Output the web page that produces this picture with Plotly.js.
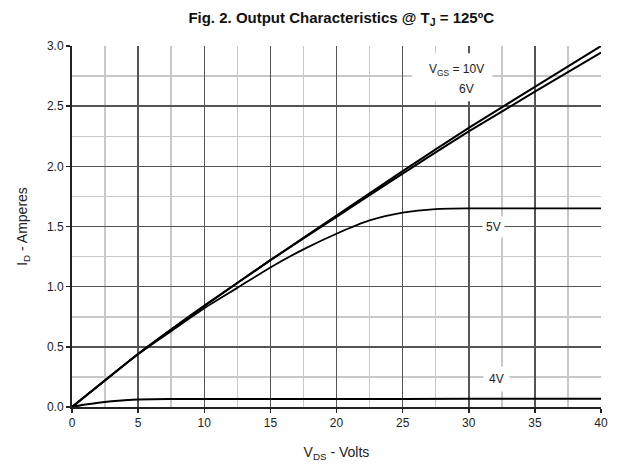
<!DOCTYPE html>
<html>
<head>
<meta charset="utf-8">
<script src="https://cdn.plot.ly/plotly-3.0.1.min.js"></script>
<style>html,body{margin:0;padding:0;background:#fff;}#chart{width:617px;height:467px;}</style>
</head>
<body>
<div id="chart"></div>
<script>
// V_DS (volts) sample points and I_D (amperes) per gate voltage
const vds10 = [0, 5, 10, 15, 20, 25, 30, 35, 40];
const id10  = [0, 0.44, 0.84, 1.22, 1.59, 1.96, 2.32, 2.66, 3.0];

const vds6 = [0, 5, 10, 15, 20, 25, 30, 35, 40];
const id6  = [0, 0.44, 0.84, 1.22, 1.58, 1.94, 2.29, 2.62, 2.945];

const vds5 = [0, 2.5, 5, 7.5, 10, 12.5, 15, 17.5, 20, 22.5, 25, 27.5, 30, 32.5, 35, 37.5, 40];
const id5  = [0, 0.22, 0.44, 0.63, 0.82, 0.99, 1.16, 1.31, 1.44, 1.55, 1.615, 1.645, 1.65, 1.65, 1.65, 1.65, 1.65];

const vds4 = [0, 1, 2, 3, 4, 5, 7.5, 10, 20, 30, 40];
const id4  = [0, 0.02, 0.036, 0.048, 0.057, 0.063, 0.066, 0.067, 0.067, 0.068, 0.068];

const xTicks = [0, 5, 10, 15, 20, 25, 30, 35, 40];
const yTicks = [0.0, 0.5, 1.0, 1.5, 2.0, 2.5, 3.0];

const traces = [
  {x: vds10, y: id10, name: 'VGS = 10V', mode: 'lines', line: {color: '#000', width: 2, shape: 'spline', smoothing: 0.5}},
  {x: vds6,  y: id6,  name: '6V', mode: 'lines', line: {color: '#000', width: 2, shape: 'spline', smoothing: 0.5}},
  {x: vds5,  y: id5,  name: '5V', mode: 'lines', line: {color: '#000', width: 1.8, shape: 'spline', smoothing: 0.6}},
  {x: vds4,  y: id4,  name: '4V', mode: 'lines', line: {color: '#000', width: 2, shape: 'spline', smoothing: 0.6}}
];

const fam = 'Liberation Sans, Arial, sans-serif';
const tickFont = {family: fam, size: 12, color: '#222'};

const layout = {
  width: 617, height: 467,
  margin: {l: 72, r: 16, t: 46, b: 60},
  paper_bgcolor: '#fff', plot_bgcolor: '#fff',
  showlegend: false,
  title: {
    text: '<b>Fig. 2. Output Characteristics @ T<sub>J</sub> = 125ºC</b>',
    font: {family: fam, size: 15, color: '#111'},
    x: 0.553, xanchor: 'center', y: 0.962, yanchor: 'middle'
  },
  xaxis: {
    range: [0, 40], tickvals: xTicks, ticktext: xTicks.map(String),
    showgrid: true, gridcolor: '#555', gridwidth: 1.5,
    minor: {dtick: 2.5, tick0: 0, showgrid: true, gridcolor: '#c8c8c8', gridwidth: 1.5, ticks: ''},
    showline: true, linecolor: '#222', linewidth: 2, mirror: false,
    ticks: 'outside', ticklen: 4, tickwidth: 1.5, tickcolor: '#222',
    tickfont: tickFont, zeroline: false,
    title: {text: 'V<sub>DS</sub> - Volts', font: {family: fam, size: 14, color: '#222'}, standoff: 18}
  },
  yaxis: {
    range: [0, 3.0], tickvals: yTicks, ticktext: yTicks.map(v => v.toFixed(1)),
    showgrid: true, gridcolor: '#555', gridwidth: 1.5,
    minor: {dtick: 0.25, tick0: 0, showgrid: true, gridcolor: '#c8c8c8', gridwidth: 1.5, ticks: ''},
    showline: true, linecolor: '#222', linewidth: 2, mirror: false,
    ticks: 'outside', ticklen: 4, tickwidth: 1.5, tickcolor: '#222',
    tickfont: tickFont, zeroline: false,
    title: {text: 'I<sub>D</sub> - Amperes', font: {family: fam, size: 14, color: '#222'}, standoff: 16}
  },
  shapes: [
    {type: 'rect', xref: 'x', yref: 'y', x0: 25.7, x1: 31.8, y0: 2.54, y1: 2.94,
     fillcolor: '#fff', line: {width: 0}, layer: 'above'}
  ],
  annotations: [
    {x: 29.1, y: 2.80, xref: 'x', yref: 'y', text: 'V<sub>GS</sub> = 10V', showarrow: false,
     font: {family: fam, size: 12, color: '#222'}},
    {x: 29.8, y: 2.64, xref: 'x', yref: 'y', text: '6V', showarrow: false,
     font: {family: fam, size: 12, color: '#222'}},
    {x: 31.9, y: 1.50, xref: 'x', yref: 'y', text: '5V', showarrow: false,
     font: {family: fam, size: 12, color: '#222'},
     bgcolor: '#fff', borderpad: 3},
    {x: 32.1, y: 0.23, xref: 'x', yref: 'y', text: '4V', showarrow: false,
     font: {family: fam, size: 12, color: '#222'},
     bgcolor: '#fff', borderpad: 5}
  ]
};

Plotly.newPlot('chart', traces, layout, {displayModeBar: false, staticPlot: true});
</script>
</body>
</html>
